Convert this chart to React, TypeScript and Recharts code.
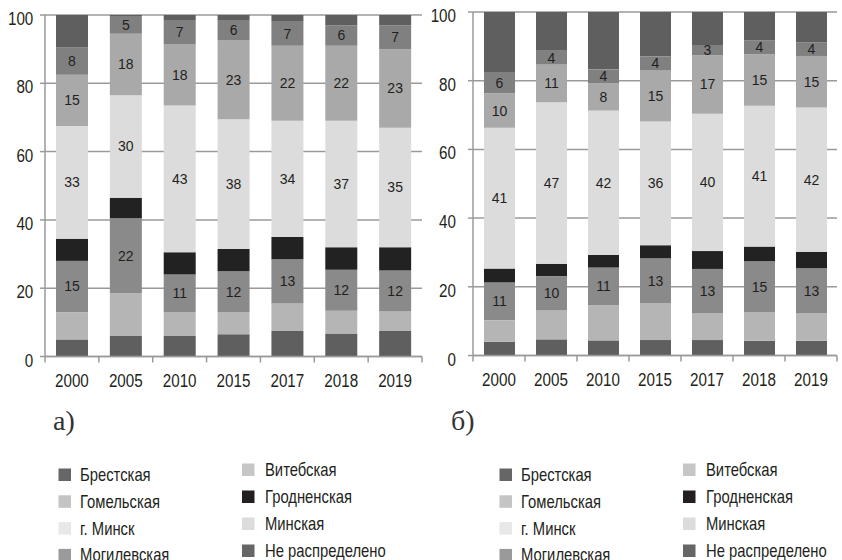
import { BarChart, Bar, XAxis, YAxis, CartesianGrid, LabelList } from "recharts";

const years = ["2000", "2005", "2010", "2015", "2017", "2018", "2019"];
const regionNames = [
  "Брестская",
  "Витебская",
  "Гомельская",
  "Гродненская",
  "г. Минск",
  "Минская",
  "Могилевская",
  "Не распределено",
];
const regionKeys = ["brest", "vitebsk", "gomel", "grodno", "minskCity", "minsk", "mogilev", "other"];
const barColors = ["#5f5f5f", "#b5b5b5", "#8a8a8a", "#222222", "#dcdcdc", "#a9a9a9", "#808080", "#5f5f5f"];
const legendColors = ["#666666", "#c6c6c6", "#c4c4c4", "#231f20", "#e8e8e8", "#dcdcdc", "#9a9a9a", "#666666"];
const labelledKeys = ["gomel", "minskCity", "minsk", "mogilev"];

// chart а)
const brestA = [5, 6, 6, 6.5, 7.5, 6.7, 7.5];
const vitebskA = [8, 12.5, 7, 6.5, 8, 6.7, 5.7];
const gomelA = [15, 22, 11, 12, 13, 12, 12];
const grodnoA = [6.5, 6, 6.5, 6.5, 6.5, 6.6, 6.8];
const minskCityA = [33, 30, 43, 38, 34, 37, 35];
const minskA = [15, 18, 18, 23, 22, 22, 23];
const mogilevA = [8, 5, 7, 6, 7, 6, 7];
const otherA = [9.5, 0.5, 1.5, 1.5, 2, 3, 3];

// chart б)
const brestB = [4, 4.7, 4.4, 4.5, 4.5, 4.3, 4.3];
const vitebskB = [6.3, 8.4, 10.2, 10.8, 7.7, 8.2, 8.1];
const gomelB = [11, 10, 11, 13, 13, 15, 13];
const grodnoB = [4, 3.6, 3.7, 3.8, 5.2, 4.2, 4.8];
const minskCityB = [41, 47, 42, 36, 40, 41, 42];
const minskB = [10, 11, 8, 15, 17, 15, 15];
const mogilevB = [6, 4, 4, 4, 3, 4, 4];
const otherB = [17.7, 11.3, 16.7, 12.9, 9.6, 8.3, 8.8];

const yTicks = [0, 20, 40, 60, 80, 100];

const buildRows = (series: number[][]) =>
  years.map((year, i) => {
    const row: Record<string, string | number> = { year };
    regionKeys.forEach((k, j) => {
      row[k] = series[j][i];
    });
    return row;
  });

const dataA = buildRows([brestA, vitebskA, gomelA, grodnoA, minskCityA, minskA, mogilevA, otherA]);
const dataB = buildRows([brestB, vitebskB, gomelB, grodnoB, minskCityB, minskB, mogilevB, otherB]);

const sansFont = "'Liberation Sans', Arial, sans-serif";
const squeeze = 0.8; // reference uses a condensed face
const inkColor = "#231f20";
const gridColor = "#9a9a9a";

function YearTick(props: any) {
  const { x, y, payload, index, visibleTicksCount } = props;
  const half = payload.offset || 27;
  return (
    <g>
      <line x1={x - half} x2={x - half} y1={y - 13} y2={y - 7} stroke={gridColor} strokeWidth={1.5} />
      {index === visibleTicksCount - 1 && (
        <line x1={x + half} x2={x + half} y1={y - 13} y2={y - 7} stroke={gridColor} strokeWidth={1.5} />
      )}
      <text
        x={0}
        y={0}
        transform={`translate(${x},${y + 17}) scale(${squeeze},1)`}
        textAnchor="middle"
        fontSize={19}
        fill={inkColor}
        fontFamily={sansFont}
      >
        {payload.value}
      </text>
    </g>
  );
}

function ValueTick(props: any) {
  const { x, y, payload } = props;
  return (
    <text
      x={0}
      y={0}
      transform={`translate(${x},${y + 10}) scale(${squeeze},1)`}
      textAnchor="end"
      fontSize={19}
      fill={inkColor}
      fontFamily={sansFont}
    >
      {payload.value}
    </text>
  );
}

function StackChart({
  data,
  width,
  margin,
  yWidth,
  yTickMargin,
  barSize,
}: {
  data: Record<string, string | number>[];
  width: number;
  margin: { top: number; right: number; bottom: number; left: number };
  yWidth: number;
  yTickMargin: number;
  barSize: number;
}) {
  return (
    <BarChart width={width} height={400} data={data} margin={margin}>
      <CartesianGrid vertical={false} stroke={gridColor} strokeWidth={1.5} />
      <XAxis
        dataKey="year"
        height={30}
        tickSize={0}
        tickMargin={13}
        axisLine={{ stroke: gridColor, strokeWidth: 1.5 }}
        tick={<YearTick />}
        interval={0}
      />
      <YAxis
        width={yWidth}
        domain={[0, 100]}
        ticks={yTicks}
        tickSize={5}
        tickMargin={yTickMargin}
        axisLine={{ stroke: gridColor, strokeWidth: 1.5 }}
        tickLine={{ stroke: gridColor, strokeWidth: 1.5 }}
        tick={<ValueTick />}
      />
      {regionKeys.map((k, j) => (
        <Bar key={k} dataKey={k} stackId="s" fill={barColors[j]} barSize={barSize} isAnimationActive={false}>
          {labelledKeys.includes(k) && (
            <LabelList
              dataKey={k}
              position="center"
              formatter={(v: any) => Math.round(Number(v))}
              style={{ fontSize: 14, fill: inkColor, fontFamily: sansFont }}
            />
          )}
        </Bar>
      ))}
    </BarChart>
  );
}

const leftCol = [0, 2, 4, 6];
const rightCol = [1, 3, 5, 7];
const leftBaselines = [481, 507.8, 534.6, 561.4];
const rightBaselines = [476, 503, 530, 557];

function LegendBlock({ sq1, tx1, sq2, tx2 }: { sq1: number; tx1: number; sq2: number; tx2: number }) {
  const item = (idx: number, sx: number, tx: number, base: number) => (
    <g key={idx}>
      <rect x={sx} y={base - 12.5} width={12.5} height={12.5} fill={legendColors[idx]} />
      <text
        x={0}
        y={0}
        transform={`translate(${tx},${base}) scale(${squeeze},1)`}
        fontSize={18.5}
        fill={inkColor}
        fontFamily={sansFont}
      >
        {regionNames[idx]}
      </text>
    </g>
  );
  return (
    <g>
      {leftCol.map((idx, r) => item(idx, sq1, tx1, leftBaselines[r]))}
      {rightCol.map((idx, r) => item(idx, sq2, tx2, rightBaselines[r]))}
    </g>
  );
}

export default function App() {
  return (
    <div
      style={{
        position: "absolute",
        left: 0,
        top: 0,
        width: 842,
        height: 560,
        background: "#fff",
        overflow: "hidden",
      }}
    >
      <svg width={842} height={560} style={{ position: "absolute", left: 0, top: 0 }}>
        <text x={53} y={430} fontSize={28} fill="#333" fontFamily="'Liberation Serif', serif">
          а)
        </text>
        <text x={451} y={430} fontSize={28} fill="#333" fontFamily="'Liberation Serif', serif">
          б)
        </text>
        <LegendBlock sq1={58.5} tx1={80} sq2={242} tx2={265} />
        <LegendBlock sq1={499.5} tx1={521} sq2={683} tx2={706} />
      </svg>
      <div style={{ position: "absolute", left: 0, top: 0 }}>
        <StackChart
          data={dataA}
          width={430}
          margin={{ top: 15, right: 8, bottom: 13.5, left: 0 }}
          yWidth={45}
          yTickMargin={6.7}
          barSize={32}
        />
      </div>
      <div style={{ position: "absolute", left: 421, top: 0 }}>
        <StackChart
          data={dataB}
          width={421}
          margin={{ top: 12, right: 5, bottom: 14.5, left: 0 }}
          yWidth={52}
          yTickMargin={12}
          barSize={31}
        />
      </div>
    </div>
  );
}
